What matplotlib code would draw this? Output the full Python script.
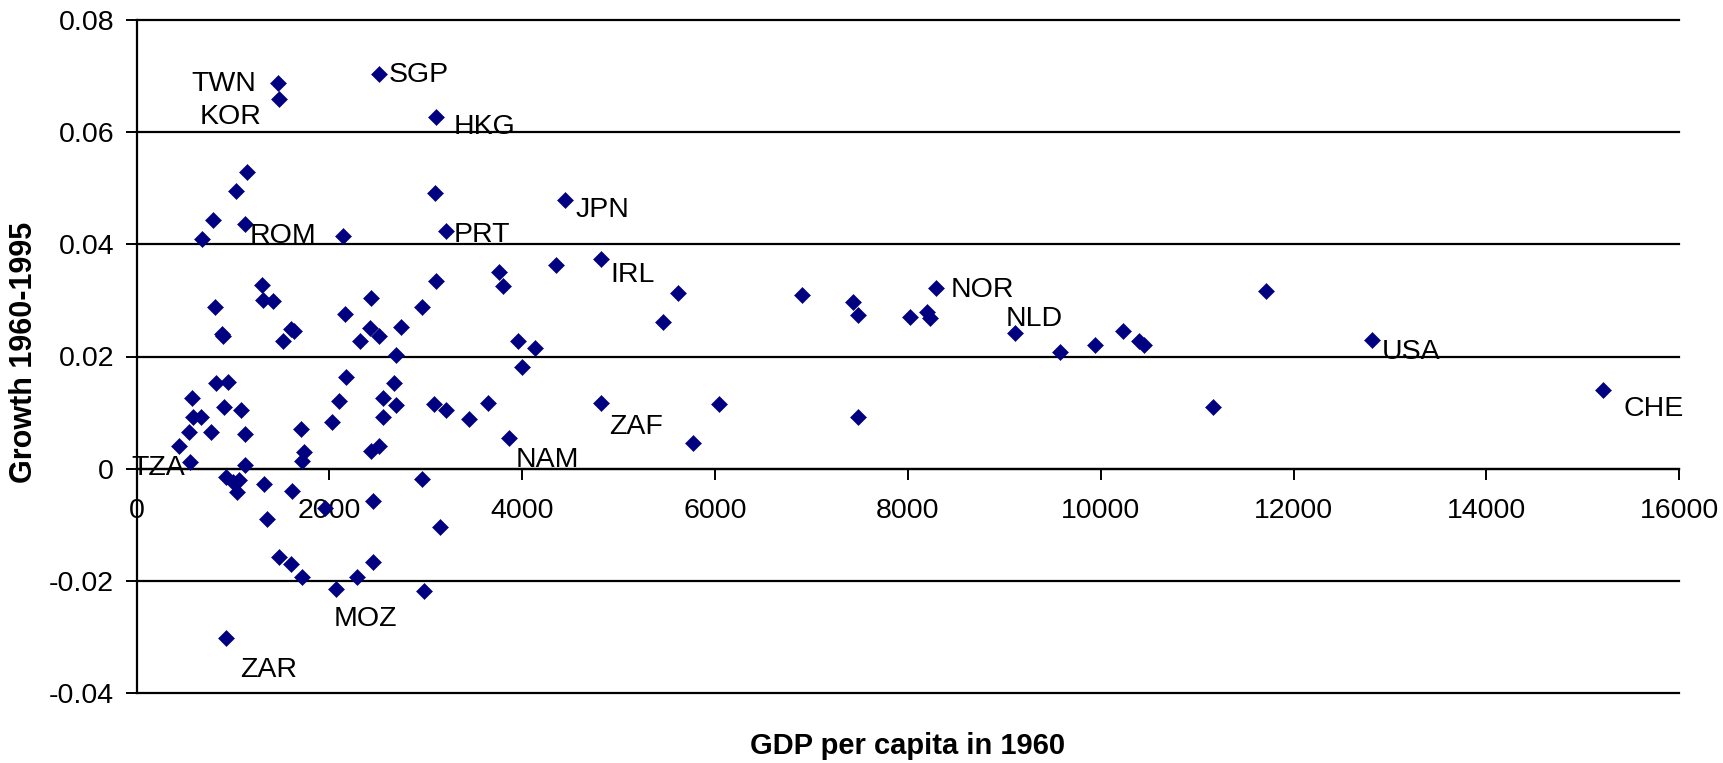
import matplotlib
matplotlib.use("Agg")
import matplotlib.pyplot as plt

plt.rcParams['font.family'] = ['Liberation Sans', 'DejaVu Sans']

# ---- data ----
country = ["TWN", "KOR", "SGP", "HKG", "JPN", "ROM", "PRT", "IRL", "NOR", "NLD",
           "USA", "CHE", "ZAF", "NAM", "TZA", "MOZ", "ZAR"] + [""] * 93

gdp_1960 = [1467, 1479, 2513, 3108, 4445, 1124, 3206, 4817, 8291, 9108,
            12817, 15210, 4817, 3866, 554, 2073, 924,
            1142, 1034, 3090, 796, 682, 2144, 4350, 3759, 3804, 3110,
            1301, 1314, 1412, 2428, 2960, 816, 2162, 2745, 2421, 2518,
            885, 900, 1605, 1630, 1522, 2317, 3953, 4133, 2691, 4001,
            5613, 5460, 6904, 7427, 7479, 8026, 8200, 8224, 9572, 9944,
            10234, 10392, 10452, 11711, 11160, 6040, 5768, 7479,
            820, 951, 2169, 2673, 571, 2100, 2559, 2691, 3088, 3206,
            3645, 907, 1080, 588, 665, 2559, 3448, 2030, 1705, 547,
            768, 1128, 440, 2428, 2518, 1740, 1719, 1128,
            927, 1003, 1065, 1038, 1322, 1609, 2960, 2449, 1954, 1349,
            3150, 1479, 1605, 2450, 1720, 2291, 2977]

growth = [0.0687, 0.0659, 0.0703, 0.0626, 0.0478, 0.0436, 0.0424, 0.0373, 0.0322, 0.0242,
          0.0229, 0.0140, 0.0118, 0.0054, 0.0012, -0.0214, -0.0302,
          0.0529, 0.0495, 0.0491, 0.0444, 0.0410, 0.0415, 0.0363, 0.0351, 0.0326, 0.0334,
          0.0327, 0.0301, 0.0299, 0.0305, 0.0288, 0.0289, 0.0275, 0.0253, 0.0250, 0.0237,
          0.0240, 0.0236, 0.0249, 0.0245, 0.0228, 0.0228, 0.0228, 0.0215, 0.0203, 0.0182,
          0.0313, 0.0262, 0.0309, 0.0297, 0.0274, 0.0271, 0.0280, 0.0268, 0.0208, 0.0220,
          0.0246, 0.0228, 0.0220, 0.0317, 0.0110, 0.0115, 0.0046, 0.0093,
          0.0152, 0.0155, 0.0164, 0.0152, 0.0126, 0.0121, 0.0126, 0.0114, 0.0115, 0.0105,
          0.0118, 0.0110, 0.0105, 0.0093, 0.0092, 0.0092, 0.0088, 0.0084, 0.0071, 0.0066,
          0.0066, 0.0062, 0.0041, 0.0032, 0.0040, 0.0030, 0.0014, 0.0007,
          -0.0014, -0.0023, -0.0020, -0.0041, -0.0027, -0.0040, -0.0018, -0.0057, -0.0070, -0.0090,
          -0.0103, -0.0157, -0.0170, -0.0166, -0.0192, -0.0192, -0.0217]

x_ticks = [0, 2000, 4000, 6000, 8000, 10000, 12000, 14000, 16000]
x_tick_labels = ["0", "2000", "4000", "6000", "8000", "10000", "12000", "14000", "16000"]
y_ticks = [-0.04, -0.02, 0.0, 0.02, 0.04, 0.06, 0.08]
y_tick_labels = ["-0.04", "-0.02", "0", "0.02", "0.04", "0.06", "0.08"]

x_title = "GDP per capita in 1960"
y_title = "Growth 1960-1995"

# ---- label placement (offset in points, horizontal alignment) ----
label_style = {
    "TWN": (-15.8, -0.7, "right"),
    "KOR": (-13.0, -13.0, "right"),
    "SGP": (7.2, -0.7, "left"),
    "HKG": (12.2, -7.2, "left"),
    "JPN": (7.2, -6.7, "left"),
    "ROM": (3.6, -8.6, "left"),
    "PRT": (6.0, -2.9, "left"),
    "IRL": (6.5, -11.3, "left"),
    "NOR": (10.4, -1.4, "left"),
    "NLD": (-6.5, 10.0, "left"),
    "USA": (6.5, -8.6, "left"),
    "CHE": (15.0, -13.7, "left"),
    "ZAF": (6.0, -17.7, "left"),
    "NAM": (4.8, -15.6, "left"),
    "TZA": (-3.6, -4.3, "right"),
    "MOZ": (-1.9, -21.6, "left"),
    "ZAR": (10.3, -22.8, "left"),
}

W, H = 1724, 763
fig = plt.figure(figsize=(W / 100, H / 100), dpi=100)
ax = fig.add_axes([136.6 / W, 1 - 693.3 / H, (1679.3 - 136.6) / W, (693.3 - 19.7) / H])

ax.plot(gdp_1960, growth, linestyle="none", marker="D", markersize=7.9,
        markerfacecolor="#000080", markeredgecolor="#000080", markeredgewidth=0.4,
        zorder=3, clip_on=False)

for c, x, y in zip(country, gdp_1960, growth):
    if c:
        dx, dy, ha = label_style[c]
        ax.annotate(c, (x, y), xytext=(dx, dy), textcoords="offset points",
                    ha=ha, va="center", fontsize=20.5, color="black", zorder=4)

ax.set_xlim(0, 16000)
ax.set_ylim(-0.04, 0.08)
ax.set_xticks(x_ticks)
ax.set_xticklabels(x_tick_labels)
ax.set_yticks(y_ticks)
ax.set_yticklabels(y_tick_labels)

ax.grid(axis="y", color="black", linewidth=1.6, zorder=1)
for gl in ax.get_ygridlines():
    gl.set_clip_on(False)
ax.set_axisbelow(True)

ax.spines["top"].set_visible(False)
ax.spines["right"].set_visible(False)
ax.spines["bottom"].set_position(("data", 0))
for s in ("left", "bottom"):
    ax.spines[s].set_linewidth(1.6)
    ax.spines[s].set_color("black")

ax.tick_params(axis="x", direction="out", length=7.7, width=1.4, pad=13, labelsize=20.5)
ax.tick_params(axis="y", direction="out", length=7.7, width=1.4, pad=8.5, labelsize=20.5)

ax.set_xlabel(x_title, fontsize=21, fontweight="bold")
ax.xaxis.set_label_coords(0.5, (693.3 - 746) / (693.3 - 19.7))
ax.xaxis.label.set_va("center")
ax.set_ylabel(y_title, fontsize=22, fontweight="bold")
ax.yaxis.set_label_coords((24 - 136.6) / (1679.3 - 136.6), (693.3 - 352) / (693.3 - 19.7))
ax.yaxis.label.set_va("center")

fig.savefig("out.png", dpi=100, facecolor="white")
